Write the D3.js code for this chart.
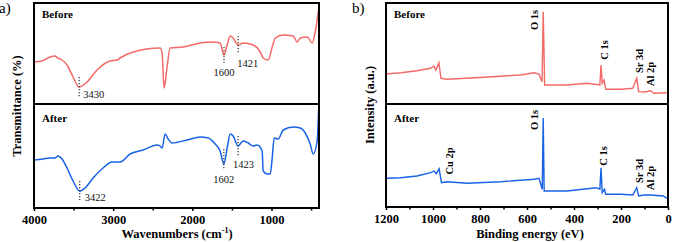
<!DOCTYPE html>
<html>
<head>
<meta charset="utf-8">
<script src="https://cdn.jsdelivr.net/npm/d3@7"></script>
<style>
body{margin:0;background:#fff;}
text{font-family:"Liberation Serif","Times New Roman",serif;}
</style>
</head>
<body>
<script>
// FTIR (a) - wavenumber / transmittance
var irBeforeWave = [4000,3900,3798,3735,3700,3646,3583,3507,3430,3330,3204,3039,2950,2913,2748,2407,2382,2357,2319,2281,2116,1901,1737,1649,1600,1560,1522,1484,1421,1358,1231,1143,1105,1042,991,953,852,726,675,637,549,486,448,405];
var irBeforeT    = [42,43,47,48,46,44,39,27,17,22,34,43,44,46,52,56,51,16,37,56,57,61,62,61,49,59,68,66,59,61,59,52,46,44,57,66,69,68,62,66,67,61,72,94];
var irAfterWave  = [4000,3886,3798,3735,3697,3646,3583,3507,3422,3355,3254,3128,3014,2913,2786,2622,2445,2407,2382,2344,2306,2255,2066,1901,1800,1711,1649,1602,1560,1522,1484,1423,1358,1295,1231,1181,1118,1105,1055,1017,991,966,916,852,726,637,574,511,473,423,405];
var irAfterT     = [48,49,50,50,52,49,40,27,17,20,30,40,46,46,54,58,63,62,60,74,69,65,68,71,70,64,57,44,60,74,72,62,67,65,62,63,57,37,34,34,50,70,69,78,81,80,75,64,54,67,98];
var irBeforePeaks = [3430,1600,1421];
var irAfterPeaks  = [3422,1602,1423];
var irTicks = [4000,3000,2000,1000];
var irMinor = [3500,2500,1500,500];

// XPS (b) - binding energy / intensity
var xpsBeforeE = [1200,1137,1068,1010,996,988,975,966,940,783,627,570,549,536,531,525,430,345,290,285,280,272,265,200,150,133,125,100,74,60,5];
var xpsBeforeI = [30,31.3,33.3,35.7,38,34,41.3,25.7,24.7,26.7,29,31.3,30,22.3,92.3,19,19,20.7,19,39,20.7,24,14.7,14.7,15.7,25.7,12.3,12,13.3,10.7,11.3];
var xpsAfterE  = [1200,1137,1068,1010,996,986,974,964,940,855,712,570,549,535,531,527,430,305,290,285,280,270,265,200,150,133,125,100,74,20,5];
var xpsAfterI  = [28.7,29.3,31,34.3,36,33.3,38.3,24.3,25.3,23.7,25.3,27.7,28.7,17.7,89,16,16,19.3,17.7,39.3,14.3,17.7,12.7,12.7,12,19.3,11,12,12,11,8.7];
var xpsBeforeLabels = ["O 1s","C 1s","Sr 3d","Al 2p"];
var xpsBeforeLabelE = [531,285,133,74];
var xpsAfterLabels  = ["O 1s","Cu 2p","C 1s","Sr 3d","Al 2p"];
var xpsAfterLabelE  = [531,933,285,133,74];
var xpsTicks = [1200,1000,800,600,400,200,0];
var xpsMinor = [1100,900,700,500,300,100];

var red = "#f46a66", blue = "#1762e6";

var svg = d3.select("body").append("svg")
.attr("width",674)
.attr("height",242);

function zip(a,b){ return a.map(function(d,i){ return [d,b[i]]; }); }

function frame(x0,x1,top,mid,bottom){
	svg.append("rect")
	.attr("x",x0).attr("y",top)
	.attr("width",x1-x0).attr("height",bottom-top)
	.attr("fill","none").attr("stroke","#000").attr("stroke-width",2);
	svg.append("line")
	.attr("x1",x0).attr("x2",x1).attr("y1",mid).attr("y2",mid)
	.attr("stroke","#000").attr("stroke-width",2);
}

function bottomAxis(x,y,ticks,minor){
	var g = svg.append("g")
	.attr("transform","translate(0," + y + ")")
	.call(d3.axisBottom(x).tickValues(ticks).tickSize(3).tickPadding(4).tickFormat(d3.format("d")));
	g.select(".domain").remove();
	g.selectAll("text").attr("font-size","12.5px").attr("font-weight","bold")
	.attr("font-family","Liberation Serif, serif").attr("fill","#000");
	g.selectAll("line").attr("stroke-width",1.5);
	var m = svg.append("g")
	.attr("transform","translate(0," + y + ")")
	.call(d3.axisBottom(x).tickValues(minor).tickSize(2.5).tickFormat(""));
	m.select(".domain").remove();
	m.selectAll("line").attr("stroke-width",1.5);
}

/* ---------- panel a ---------- */
var ax = d3.scaleLinear().domain([4000,400]).range([34,319]);
var ayTop = d3.scaleLinear().domain([0,101]).range([104,3]);
var ayBot = d3.scaleLinear().domain([0,104]).range([208,104]);

function irLine(ys){
	return d3.line().x(function(d){ return ax(d[0]); }).y(function(d){ return ys(d[1]); })
	.curve(d3.curveMonotoneX);
}

svg.append("path").datum(zip(irBeforeWave,irBeforeT))
.attr("d",irLine(ayTop)).attr("fill","none").attr("stroke",red).attr("stroke-width",1.5);
svg.append("path").datum(zip(irAfterWave,irAfterT))
.attr("d",irLine(ayBot)).attr("fill","none").attr("stroke",blue).attr("stroke-width",1.5);

frame(34,319,3,104,208);
bottomAxis(ax,208,irTicks,irMinor);

// peak markers: [lineFromT, lineToT, labelT, dx, anchor]
var irBeforeMarks = [[27,6,6,4,"start"],[57,41,28,0,"middle"],[68,51,37,-1,"start"]];
var irAfterMarks  = [[27,8,7,5,"start"],[59,39,25,0,"middle"],[72,52,40,-5,"start"]];

function peakMarks(peaks,marks,ys){
	peaks.forEach(function(p,i){
		var m = marks[i];
		svg.append("line")
		.attr("x1",ax(p)).attr("x2",ax(p))
		.attr("y1",ys(m[0])).attr("y2",ys(m[1]))
		.attr("stroke","#222").attr("stroke-width",1.1)
		.attr("stroke-dasharray","1.3,1.7");
		svg.append("text")
		.attr("x",ax(p) + m[3]).attr("y",ys(m[2]))
		.attr("text-anchor",m[4])
		.attr("font-size","10.5px").attr("fill","#111")
		.text(p);
	});
}
peakMarks(irBeforePeaks,irBeforeMarks,ayTop);
peakMarks(irAfterPeaks,irAfterMarks,ayBot);

svg.append("text").attr("x",42).attr("y",18).attr("font-size","11px").attr("font-weight","bold").text("Before");
svg.append("text").attr("x",42).attr("y",122).attr("font-size","11px").attr("font-weight","bold").text("After");

svg.append("text")
.attr("transform","translate(21,106) rotate(-90)")
.attr("text-anchor","middle").attr("font-size","12.5px").attr("font-weight","bold")
.text("Transmittance (%)");

var xt = svg.append("text")
.attr("x",177).attr("y",238)
.attr("text-anchor","middle").attr("font-size","12.5px").attr("font-weight","bold");
xt.append("tspan").text("Wavenumbers (cm");
xt.append("tspan").attr("font-size","8px").attr("dy",-5).text("-1");
xt.append("tspan").attr("dy",5).text(")");

svg.append("text").attr("x",-1).attr("y",13).attr("font-size","15px").text("a)");

/* ---------- panel b ---------- */
var bx = d3.scaleLinear().domain([1200,0]).range([386,668]);
var byTop = d3.scaleLinear().domain([0,101]).range([104,3]);
var byBot = d3.scaleLinear().domain([0,103]).range([207,104]);

function xpsLine(ys){
	return d3.line().x(function(d){ return bx(d[0]); }).y(function(d){ return ys(d[1]); });
}

svg.append("path").datum(zip(xpsBeforeE,xpsBeforeI))
.attr("d",xpsLine(byTop)).attr("fill","none").attr("stroke",red).attr("stroke-width",1.4);
svg.append("path").datum(zip(xpsAfterE,xpsAfterI))
.attr("d",xpsLine(byBot)).attr("fill","none").attr("stroke",blue).attr("stroke-width",1.4);

frame(386,668,3,104,207);
bottomAxis(bx,207,xpsTicks,xpsMinor);

// label placement: [baseline dx, centre intensity]
var xpsBeforePos = [[-5,84],[7,54],[6,43],[3,30]];
var xpsAfterPos  = [[-5,87],[4,46],[6,51],[6,36],[3,29]];

function xpsLabels(names,energies,pos,ys){
	names.forEach(function(n,i){
		svg.append("text")
		.attr("transform","translate(" + (bx(energies[i]) + pos[i][0]) + "," + ys(pos[i][1]) + ") rotate(-90)")
		.attr("text-anchor","middle").attr("font-size","10.5px").attr("font-weight","bold")
		.text(n);
	});
}
xpsLabels(xpsBeforeLabels,xpsBeforeLabelE,xpsBeforePos,byTop);
xpsLabels(xpsAfterLabels,xpsAfterLabelE,xpsAfterPos,byBot);

svg.append("text").attr("x",394).attr("y",18).attr("font-size","11px").attr("font-weight","bold").text("Before");
svg.append("text").attr("x",394).attr("y",122).attr("font-size","11px").attr("font-weight","bold").text("After");

svg.append("text")
.attr("transform","translate(374,105) rotate(-90)")
.attr("text-anchor","middle").attr("font-size","12.5px").attr("font-weight","bold")
.text("Intensity (a.u.)");

svg.append("text")
.attr("x",530).attr("y",238)
.attr("text-anchor","middle").attr("font-size","12.5px").attr("font-weight","bold")
.text("Binding energy (eV)");

svg.append("text").attr("x",352).attr("y",13).attr("font-size","15px").text("b)");
</script>
</body>
</html>
